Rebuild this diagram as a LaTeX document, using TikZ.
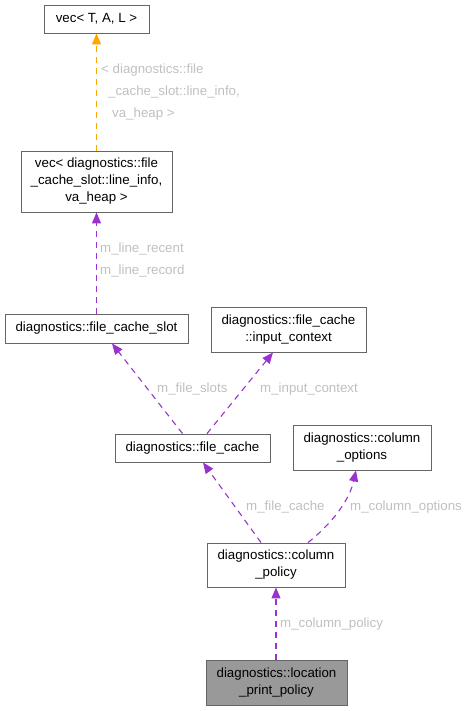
\documentclass[tikz,border=0pt]{standalone}
\usepackage{fontspec}
\setmainfont{Liberation Sans}
\usetikzlibrary{arrows.meta}
\definecolor{boxline}{RGB}{102, 102, 102}
\definecolor{boxfill}{RGB}{153, 153, 153}
\definecolor{member}{RGB}{154, 50, 205}
\definecolor{tmpl}{RGB}{255, 165, 0}
\definecolor{labelgray}{RGB}{192, 192, 192}

\begin{document}
\begin{tikzpicture}[x=1pt, y=-1pt,
        font=\fontsize{13.3}{17}\selectfont,
        cls/.style={draw=boxline, line width=0.9pt, fill=white, align=center, inner sep=0pt},
        edge/.style={line width=1.1pt, dash pattern=on 6pt off 5pt, -{Triangle[length=11pt, width=9pt]}},
        lbl/.style={text=labelgray, anchor=west, inner sep=0pt}]
        \useasboundingbox (0,0) rectangle (468,711);
        % klassen
        \node[cls, minimum width=105pt, minimum height=28pt] (vecTAL) at (96.5,19) {vec< T, A, L >};
        \node[cls, minimum width=151pt, minimum height=61pt] (vecinfo) at (96.5,181.5)
            {vec< diagnostics::file\\\_cache\_slot::line\_info,\\va\_heap >};
        \node[cls, minimum width=183pt, minimum height=29pt] (slot) at (96.5,328.5) {diagnostics::file\_cache\_slot};
        \node[cls, minimum width=155pt, minimum height=45pt] (inputctx) at (288.5,329.5)
            {diagnostics::file\_cache\\::input\_context};
        \node[cls, minimum width=155pt, minimum height=28pt] (fcache) at (192.5,448) {diagnostics::file\_cache};
        \node[cls, minimum width=138pt, minimum height=45pt] (coloptions) at (362,447.5)
            {diagnostics::column\\\_options};
        \node[cls, minimum width=138pt, minimum height=44pt] (colpolicy) at (276,565)
            {diagnostics::column\\\_policy};
        \node[cls, fill=boxfill, minimum width=141pt, minimum height=45pt] (locpolicy) at (276.5,682.5)
            {diagnostics::location\\\_print\_policy};
        % template-instantiatie
        \draw[edge, tmpl] (vecinfo.north) -- (vecTAL.south);
        \node[lbl] (tl1) at (101,70) {< diagnostics::file};
        \node[lbl] (tl2) at (108,92) {\_cache\_slot::line\_info,};
        \node[lbl] (tl3) at (112,114) {va\_heap >};
        % leden
        \draw[edge, member] (slot.north) -- (vecinfo.south);
        \node[lbl] (ml1) at (100,249) {m\_line\_recent};
        \node[lbl] (ml2) at (100,271) {m\_line\_record};
        \draw[edge, member] ([xshift=-10pt]fcache.north) -- ([xshift=15.5pt]slot.south);
        \node[lbl] (ml3) at (157,389) {m\_file\_slots};
        \draw[edge, member] ([xshift=14.5pt]fcache.north) -- ([xshift=-15.5pt]inputctx.south);
        \node[lbl] (ml4) at (260,389) {m\_input\_context};
        \draw[edge, member] ([xshift=-15pt]colpolicy.north) -- ([xshift=10.5pt]fcache.south);
        \node[lbl] (ml5) at (246,507) {m\_file\_cache};
        \draw[edge, member] ([xshift=32pt]colpolicy.north) .. controls (330,525) and (349,502) .. ([xshift=-6pt]coloptions.south);
        \node[lbl] (ml6) at (350,507) {m\_column\_options};
        \draw[edge, member] (locpolicy.north -| colpolicy.south) -- (colpolicy.south);
        \node[lbl] (ml7) at (280,624) {m\_column\_policy};
    \end{tikzpicture}
\end{document}
